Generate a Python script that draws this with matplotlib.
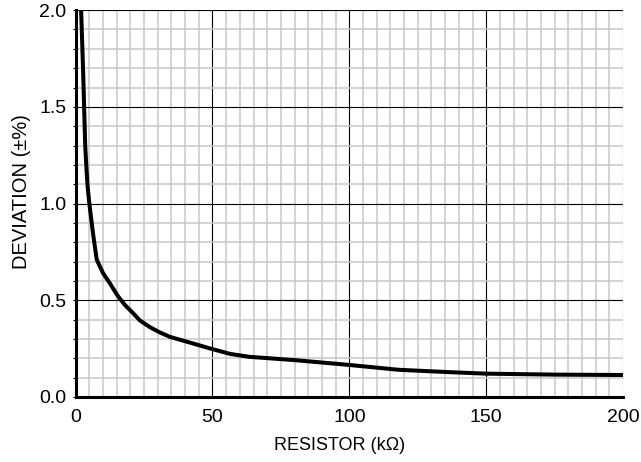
import numpy as np
import matplotlib.pyplot as plt
from matplotlib.ticker import MultipleLocator

plt.rcParams['font.family'] = ['Liberation Sans', 'DejaVu Sans']

# curve
resistor = [2.0, 2.7, 3.1, 3.5, 3.8, 4.3, 5.0, 6.3, 7.7, 10, 12.6, 15.5, 18, 20.5, 23.5,
            27.2, 30.5, 34.5, 41.9, 49.2, 56.5, 63.5, 80, 100, 118, 133, 150, 175, 200]
deviation = [2.0, 1.7, 1.5, 1.3, 1.22, 1.1, 1.0, 0.85, 0.71, 0.64, 0.585, 0.52, 0.475, 0.44, 0.395,
             0.36, 0.335, 0.31, 0.28, 0.25, 0.222, 0.207, 0.19, 0.165, 0.14, 0.13, 0.12, 0.115, 0.113]

fig = plt.figure(figsize=(6.41, 4.62), dpi=100)
ax = fig.add_axes([0.118, 0.141, 0.854, 0.837])

ax.set_xlim(0, 200)
ax.set_ylim(0, 2.0)
ax.xaxis.set_major_locator(MultipleLocator(50))
ax.xaxis.set_minor_locator(MultipleLocator(5))
ax.yaxis.set_major_locator(MultipleLocator(0.5))
ax.yaxis.set_minor_locator(MultipleLocator(0.1))

ax.grid(which='minor', color='#c8c8c8', linewidth=1.1)
ax.grid(which='major', color='black', linewidth=0.8)
ax.set_axisbelow(True)

ax.plot(resistor, deviation, color='black', linewidth=2.9, solid_capstyle='butt',
        solid_joinstyle='round', zorder=5, clip_on=False)

for s in ['top', 'right']:
    ax.spines[s].set_visible(False)
for s in ['left', 'bottom']:
    ax.spines[s].set_linewidth(2.2)
    ax.spines[s].set_zorder(6)

ax.yaxis.set_major_formatter(plt.FuncFormatter(lambda v, p: f'{v:.1f}'))
ax.tick_params(axis='y', which='both', direction='out', length=2.5, width=0.8, labelsize=14, pad=4)
ax.tick_params(axis='x', which='both', length=0, labelsize=14, pad=9)

ax.set_xlabel('RESISTOR (kΩ)', fontsize=13, labelpad=8)
ax.xaxis.set_label_coords(0.482, -0.105)
ax.set_ylabel('DEVIATION (±%)', fontsize=14.5, labelpad=8)
ax.yaxis.set_label_coords(-0.082, 0.532)

fig.savefig('out.png', dpi=100)
